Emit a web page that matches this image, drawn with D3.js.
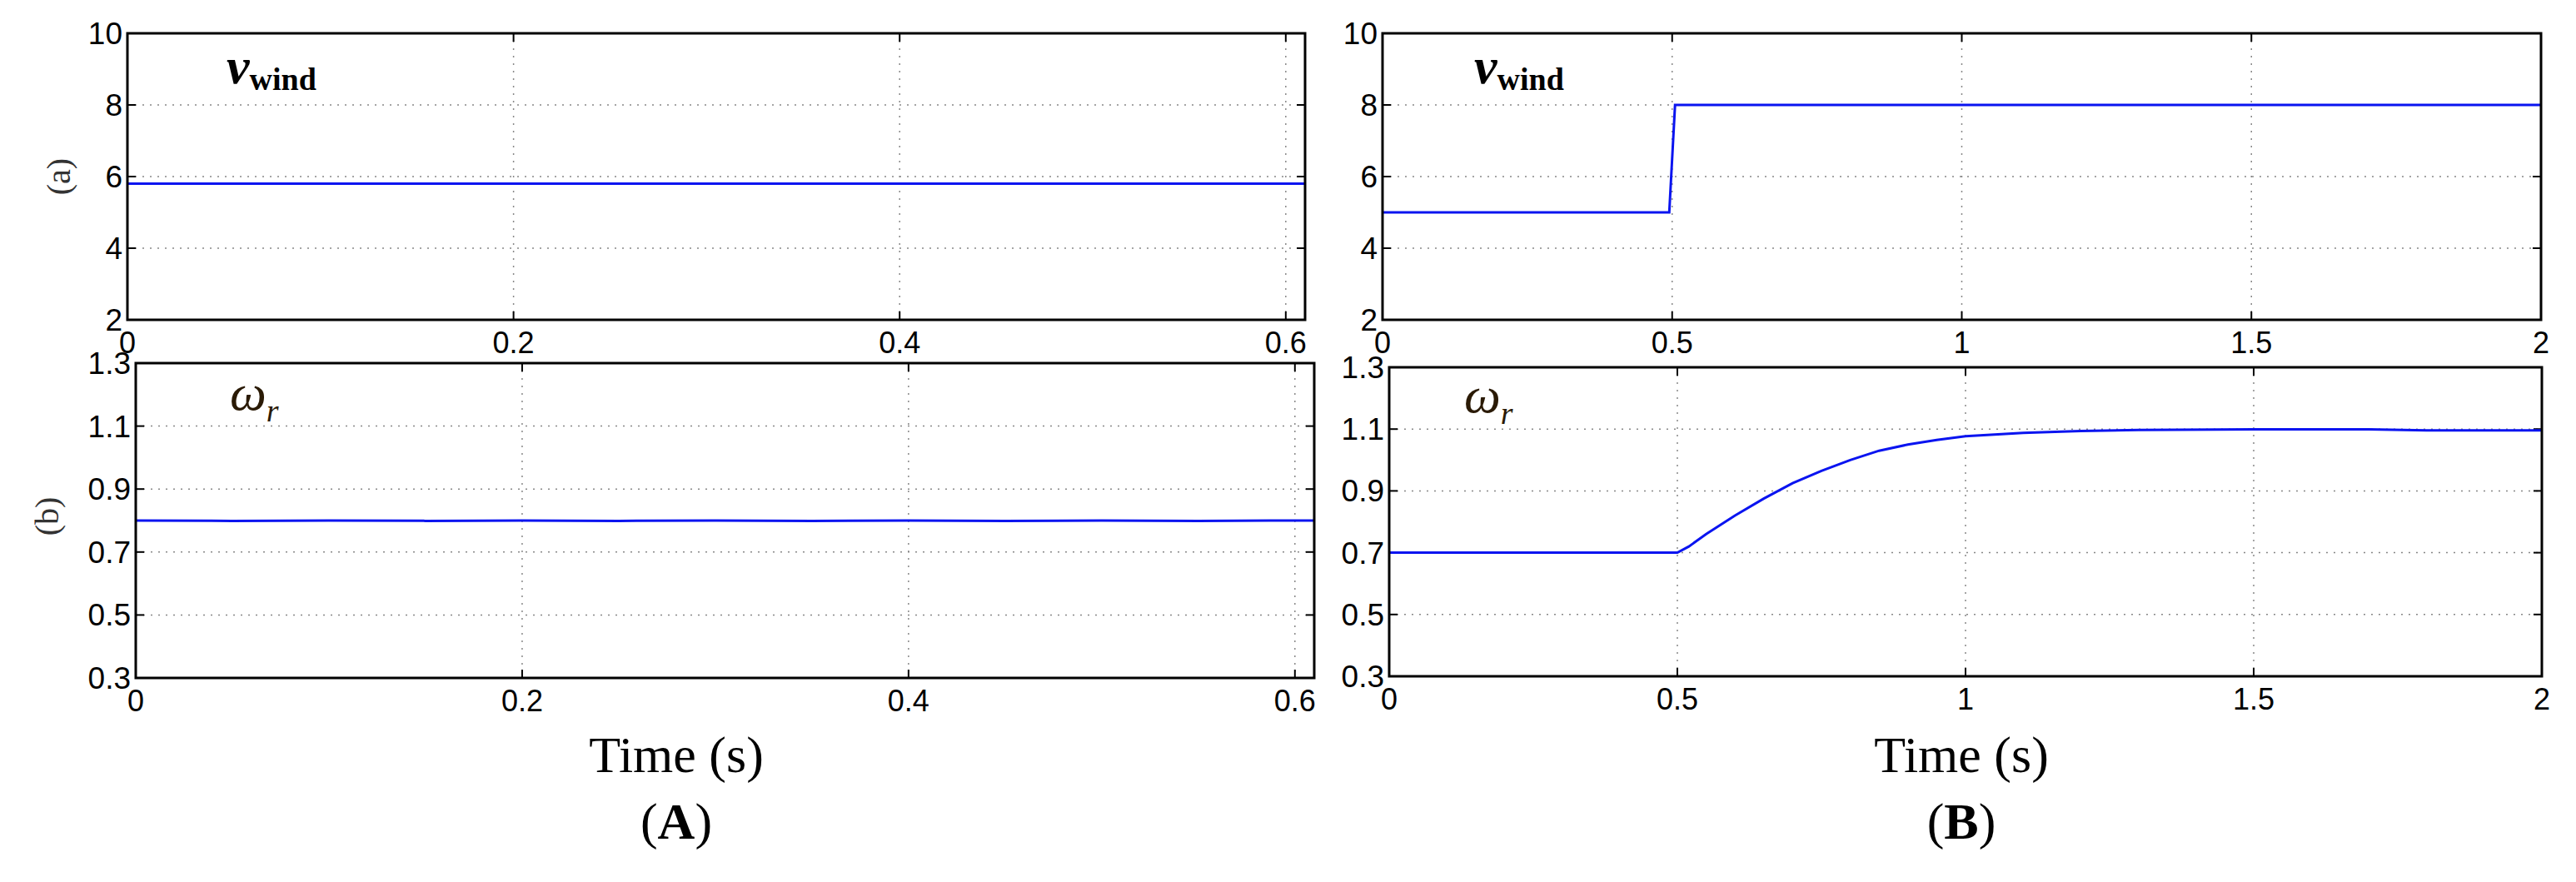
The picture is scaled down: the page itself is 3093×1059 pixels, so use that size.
<!DOCTYPE html>
<html><head><meta charset="utf-8">
<script src="https://cdn.jsdelivr.net/npm/d3@7"></script>
<style>body{margin:0;background:#fff}</style></head>
<body><svg id="c" width="3093" height="1059"></svg>
<script>
// Data
const windA_t = [0, 0.61];
const windA_v = [5.8, 5.8];
const windB_t = [0, 0.495, 0.505, 2];
const windB_v = [5.0, 5.0, 8.0, 8.0];
const wrA_t = [0, 0.05, 0.1, 0.15, 0.2, 0.25, 0.3, 0.35, 0.4, 0.45, 0.5, 0.55, 0.6, 0.61];
const wrA_v = [0.80, 0.799, 0.80, 0.799, 0.80, 0.799, 0.80, 0.799, 0.80, 0.799, 0.80, 0.799, 0.80, 0.80];
const wrB_t = [0, 0.5, 0.52, 0.55, 0.6, 0.65, 0.7, 0.75, 0.8, 0.85, 0.9, 0.95, 1.0, 1.1, 1.2, 1.3, 1.5, 1.7, 1.8, 2.0];
const wrB_v = [0.70, 0.70, 0.72, 0.76, 0.82, 0.875, 0.925, 0.965, 1.0, 1.03, 1.05, 1.065, 1.077, 1.088, 1.094, 1.097, 1.099, 1.099, 1.096, 1.096];
const xTicksA = [0, 0.2, 0.4, 0.6];
const xTicksB = [0, 0.5, 1, 1.5, 2];
const yTicksTop = [2, 4, 6, 8, 10];
const yTicksBot = [0.3, 0.5, 0.7, 0.9, 1.1, 1.3];

const svg = d3.select("#c");
function panel(o){
  const g = svg.append("g");
  const x = d3.scaleLinear().domain(o.xd).range([o.l, o.r]);
  const y = d3.scaleLinear().domain(o.yd).range([o.b, o.t]);
  o.xt.forEach(v=>{ if(v>o.xd[0]&&v<o.xd[1]) g.append("line").attr("x1",x(v)).attr("x2",x(v)).attr("y1",o.t).attr("y2",o.b).attr("stroke","#888").attr("stroke-width",1.5).attr("stroke-dasharray","2,7");});
  o.yt.forEach(v=>{ if(v>o.yd[0]&&v<o.yd[1]) g.append("line").attr("x1",o.l).attr("x2",o.r).attr("y1",y(v)).attr("y2",y(v)).attr("stroke","#888").attr("stroke-width",1.5).attr("stroke-dasharray","2,7");});
  o.xt.forEach(v=>{
    g.append("line").attr("x1",x(v)).attr("x2",x(v)).attr("y1",o.b).attr("y2",o.b-10).attr("stroke","#000").attr("stroke-width",2);
    g.append("line").attr("x1",x(v)).attr("x2",x(v)).attr("y1",o.t).attr("y2",o.t+10).attr("stroke","#000").attr("stroke-width",2);
    g.append("text").attr("x",x(v)).attr("y",o.b+40).attr("text-anchor","middle").attr("font-family","Liberation Sans, Arial").attr("font-size",36).text(v);
  });
  o.yt.forEach(v=>{
    g.append("line").attr("x1",o.l).attr("x2",o.l+10).attr("y1",y(v)).attr("y2",y(v)).attr("stroke","#000").attr("stroke-width",2);
    g.append("line").attr("x1",o.r).attr("x2",o.r-10).attr("y1",y(v)).attr("y2",y(v)).attr("stroke","#000").attr("stroke-width",2);
    g.append("text").attr("x",o.l-6).attr("y",y(v)+13).attr("text-anchor","end").attr("font-family","Liberation Sans, Arial").attr("font-size",37).text(v);
  });
  const line = d3.line().x((d,i)=>x(o.tx[i])).y(d=>y(d));
  g.append("path").datum(o.vy).attr("d",line).attr("fill","none").attr("stroke","#0a14f0").attr("stroke-width",3);
  g.append("rect").attr("x",o.l).attr("y",o.t).attr("width",o.r-o.l).attr("height",o.b-o.t).attr("fill","none").attr("stroke","#000").attr("stroke-width",3);
}
panel({l:153,r:1567,t:40,b:384,xd:[0,0.61],yd:[2,10],xt:xTicksA,yt:yTicksTop,tx:windA_t,vy:windA_v});
panel({l:1660,r:3051,t:40,b:384,xd:[0,2],yd:[2,10],xt:xTicksB,yt:yTicksTop,tx:windB_t,vy:windB_v});
panel({l:163,r:1578,t:436,b:814,xd:[0,0.61],yd:[0.3,1.3],xt:xTicksA,yt:yTicksBot,tx:wrA_t,vy:wrA_v});
panel({l:1668,r:3052,t:441,b:812,xd:[0,2],yd:[0.3,1.3],xt:xTicksB,yt:yTicksBot,tx:wrB_t,vy:wrB_v});

function vwind(x,y){
  const t = svg.append("text").attr("x",x).attr("y",y).attr("font-family","Liberation Serif, Times New Roman").attr("font-weight","bold");
  t.append("tspan").attr("font-style","italic").attr("font-size",62).text("v");
  t.append("tspan").attr("font-size",38).attr("dy",8).text("wind");
}
vwind(272,100); vwind(1770,100);
function wr(x,y){
  const t = svg.append("text").attr("x",x).attr("y",y).attr("font-family","Liberation Serif, Times New Roman").attr("fill","#2a1a05").attr("font-style","italic");
  t.append("tspan").attr("font-size",62).text("ω");
  t.append("tspan").attr("font-size",38).attr("dy",14).text("r");
}
wr(276,492); wr(1758,495);
function rot(x,y,s){ svg.append("text").attr("transform",`translate(${x},${y}) rotate(-90)`).attr("text-anchor","middle").attr("font-family","Liberation Serif, Times New Roman").attr("font-size",40).attr("fill","#333").text(s); }
rot(84,212,"(a)"); rot(70,620,"(b)");
function cap(x,l){
  svg.append("text").attr("x",x).attr("y",927).attr("text-anchor","middle").attr("font-family","Liberation Serif, Times New Roman").attr("font-size",62).text("Time (s)");
  const t=svg.append("text").attr("x",x).attr("y",1007).attr("text-anchor","middle").attr("font-family","Liberation Serif, Times New Roman").attr("font-size",62);
  t.append("tspan").text("("); t.append("tspan").attr("font-weight","bold").text(l); t.append("tspan").text(")");
}
cap(812,"A"); cap(2355,"B");
</script></body></html>
